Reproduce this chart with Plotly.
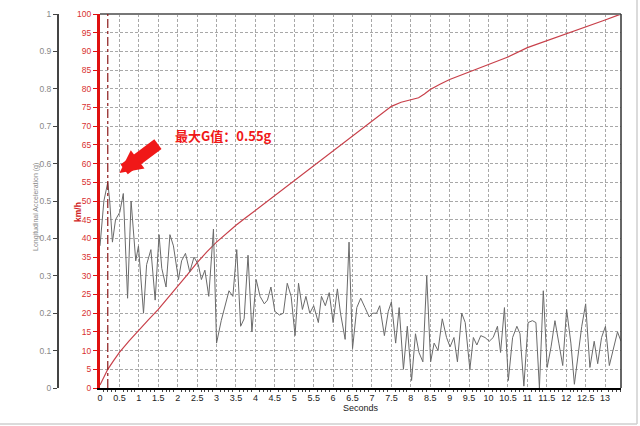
import plotly.graph_objects as go

# ---------------- data ----------------
time_acc = [0.00, 0.10, 0.20, 0.25, 0.32, 0.40, 0.51, 0.60, 0.71, 0.80, 0.92, 0.99,
            1.12, 1.20, 1.31, 1.42, 1.52, 1.59, 1.70, 1.80, 1.89, 2.02, 2.10, 2.20,
            2.31, 2.42, 2.53, 2.61, 2.70, 2.80, 2.92, 3.00, 3.12, 3.22, 3.32, 3.42,
            3.52, 3.62, 3.71, 3.81, 3.91, 4.02, 4.12, 4.23, 4.31, 4.40, 4.50, 4.62,
            4.72, 4.82, 4.92, 5.02, 5.11, 5.21, 5.30, 5.40, 5.50, 5.62, 5.70, 5.80,
            5.90, 6.00, 6.11, 6.19, 6.31, 6.41, 6.50, 6.61, 6.71, 6.82, 6.93, 7.02,
            7.12, 7.20, 7.32, 7.42, 7.50, 7.61, 7.70, 7.81, 7.91, 8.02, 8.12, 8.21,
            8.31, 8.41, 8.51, 8.60, 8.70, 8.81, 8.92, 9.01, 9.11, 9.20, 9.31, 9.40,
            9.52, 9.61, 9.70, 9.80, 9.91, 10.02, 10.12, 10.23, 10.31, 10.41, 10.51,
            10.62, 10.73, 10.81, 10.91, 11.02, 11.13, 11.22, 11.31, 11.41, 11.51,
            11.61, 11.71, 11.81, 11.91, 12.01, 12.12, 12.21, 12.31, 12.40, 12.50,
            12.61, 12.72, 12.81, 12.91, 13.01, 13.11, 13.21, 13.32, 13.41]
accel_g = [0.38, 0.50, 0.55, 0.50, 0.39, 0.45, 0.47, 0.52, 0.24, 0.50, 0.34, 0.38,
           0.20, 0.33, 0.37, 0.235, 0.41, 0.32, 0.27, 0.41, 0.38, 0.29, 0.34, 0.36,
           0.31, 0.35, 0.33, 0.29, 0.315, 0.245, 0.425, 0.12, 0.18, 0.22, 0.26, 0.245,
           0.37, 0.165, 0.185, 0.355, 0.15, 0.29, 0.245, 0.225, 0.235, 0.27, 0.205, 0.195,
           0.20, 0.28, 0.245, 0.14, 0.28, 0.21, 0.245, 0.20, 0.22, 0.175, 0.245, 0.22,
           0.255, 0.175, 0.265, 0.20, 0.13, 0.39, 0.105, 0.215, 0.24, 0.215, 0.19, 0.20,
           0.20, 0.22, 0.14, 0.205, 0.23, 0.12, 0.215, 0.05, 0.165, 0.02, 0.145, 0.095,
           0.07, 0.30, 0.07, 0.12, 0.10, 0.185, 0.135, 0.11, 0.135, 0.07, 0.20, 0.175,
           0.05, 0.135, 0.115, 0.14, 0.135, 0.125, 0.135, 0.165, 0.095, 0.215, 0.02,
           0.135, 0.165, 0.145, 0.005, 0.175, 0.18, 0.175, 0.0, 0.26, 0.055,
           0.11, 0.18, 0.12, 0.06, 0.21, 0.12, 0.01, 0.095, 0.165, 0.225,
           0.055, 0.125, 0.065, 0.135, 0.165, 0.06, 0.10, 0.15, 0.125]

time_speed = [0.0, 0.1, 0.2, 0.35, 0.5, 0.75, 1.0, 1.25, 1.5, 1.75, 2.0, 2.25, 2.5,
              2.75, 3.0, 3.25, 3.5, 3.75, 4.0, 4.5, 5.0, 5.5, 6.0, 6.5, 7.0, 7.25,
              7.5, 7.75, 8.0, 8.2, 8.35, 8.5, 8.75, 9.0, 9.5, 10.0, 10.5, 11.0,
              11.5, 12.0, 12.5, 13.0, 13.41]
speed_kmh = [0.8, 3.0, 5.0, 7.3, 9.5, 12.6, 15.5, 18.3, 21.0, 24.0, 27.0, 30.3, 33.5,
             36.4, 39.0, 41.3, 43.5, 45.5, 47.5, 51.5, 55.5, 59.5, 63.5, 67.5, 71.5,
             73.5, 75.3, 76.4, 77.1, 77.6, 78.6, 79.8, 81.2, 82.5, 84.5, 86.5, 88.5,
             91.0, 92.8, 94.8, 96.5, 98.4, 100.0]

peak_time = 0.2
annot_text = "最大G值：0.55g"
x_title = "Seconds"
g_title = "Longitudinal Acceleration (g)"
speed_title = "km/h"

# ---------------- figure ----------------
W, H = 640, 426
ML, MR, MT, MB = 0, 19, 14, 38
PW = W - ML - MR
PH = H - MT - MB
x0px = 100  # left edge of plotting area


def px_x(p):
    return (p - ML) / PW


def px_y(p):
    return (H - MB - p) / PH


fig = go.Figure()
fig.add_trace(go.Scatter(x=time_acc, y=accel_g, mode="lines", yaxis="y2",
                         line=dict(color="#6a6a6a", width=1), showlegend=False))
fig.add_trace(go.Scatter(x=time_speed, y=speed_kmh, mode="lines", yaxis="y",
                         line=dict(color="#c8404a", width=1.2),
                         showlegend=False))

grid = dict(showgrid=True, gridcolor="#a8a8a8", griddash="3px,2px", gridwidth=1)
FAM = "Liberation Sans, Arial"

fig.update_layout(
    width=W, height=H, margin=dict(l=ML, r=MR, t=MT, b=MB, autoexpand=False),
    paper_bgcolor="white", plot_bgcolor="white",
    xaxis=dict(domain=[px_x(x0px), 1], range=[0, 13.41], dtick=0.5, tick0=0,
               automargin=False,
               showline=True, linecolor="black", linewidth=2,
               ticks="", tickfont=dict(color="#222", family=FAM, size=9),
               minor=dict(ticks="outside", dtick=0.1, ticklen=2, tickcolor="#444"),
               title=dict(text=x_title, font=dict(color="#222", family=FAM, size=9), standoff=2),
               zeroline=False, **grid),
    yaxis=dict(range=[0, 100], dtick=5, anchor="x", side="left", automargin=False,
               showline=True, linecolor="#e01010", linewidth=3,
               ticks="outside", ticklen=4, tickcolor="#e01010",
               tickfont=dict(color="#d83030", family=FAM, size=8.5),
               zeroline=False, **grid),
    yaxis2=dict(range=[0, 1], dtick=0.1, overlaying="y", anchor="free",
                position=px_x(58), side="left", automargin=False,
                showline=True, linecolor="#444", linewidth=2,
                ticks="outside", ticklen=4, tickcolor="#444",
                tickfont=dict(color="#888", family=FAM, size=8.5),
                showgrid=False, zeroline=False),
)

# top and right frame of plotting area
fig.add_shape(type="line", xref="x domain", yref="paper", x0=0, x1=1, y0=1, y1=1,
              line=dict(color="#777", width=2))
fig.add_shape(type="line", xref="x domain", yref="paper", x0=1, x1=1, y0=0, y1=1,
              line=dict(color="#333", width=1.5))
# vertical marker at peak time
fig.add_shape(type="line", xref="x", yref="paper", x0=peak_time, x1=peak_time, y0=0, y1=1,
              line=dict(color="#8b1a1a", width=1.2, dash="dashdot"))
# outer light frame
yb = px_y(424)
xr = px_x(637)
fig.add_shape(type="line", xref="paper", yref="paper", x0=px_x(0), x1=xr, y0=yb, y1=yb,
              line=dict(color="#cfcfcf", width=1.5))
fig.add_shape(type="line", xref="paper", yref="paper", x0=xr, x1=xr, y0=yb, y1=px_y(0),
              line=dict(color="#cfcfcf", width=1.5))

# g axis title
fig.add_annotation(text=g_title, xref="paper", yref="paper",
                   x=px_x(36), y=px_y(207), xanchor="center", yanchor="middle",
                   showarrow=False, textangle=-90,
                   font=dict(color="#888", family=FAM, size=7))
# km/h axis title
fig.add_annotation(text="<b>" + speed_title + "</b>", xref="paper", yref="paper",
                   x=px_x(78), y=px_y(212), xanchor="center", yanchor="middle",
                   showarrow=False, textangle=-90,
                   font=dict(color="#d02020", family=FAM, size=8.5))

# arrow
fig.add_annotation(x=0.5, y=57.5, xref="x", yref="y", text="", showarrow=True,
                   ax=40, ay=-30, axref="pixel", ayref="pixel",
                   arrowhead=2, arrowwidth=12, arrowsize=0.38, arrowcolor="#f01818", standoff=0)
# label
fig.add_annotation(x=3.17, y=67.6, xref="x", yref="y", text="<b>" + annot_text + "</b>",
                   showarrow=False,
                   font=dict(color="#f01818", family="Noto Sans CJK SC", size=13))

fig.write_html("out.html", config={"displayModeBar": False},
               post_script="document.body.style.margin='0';document.body.style.overflow='hidden';")
